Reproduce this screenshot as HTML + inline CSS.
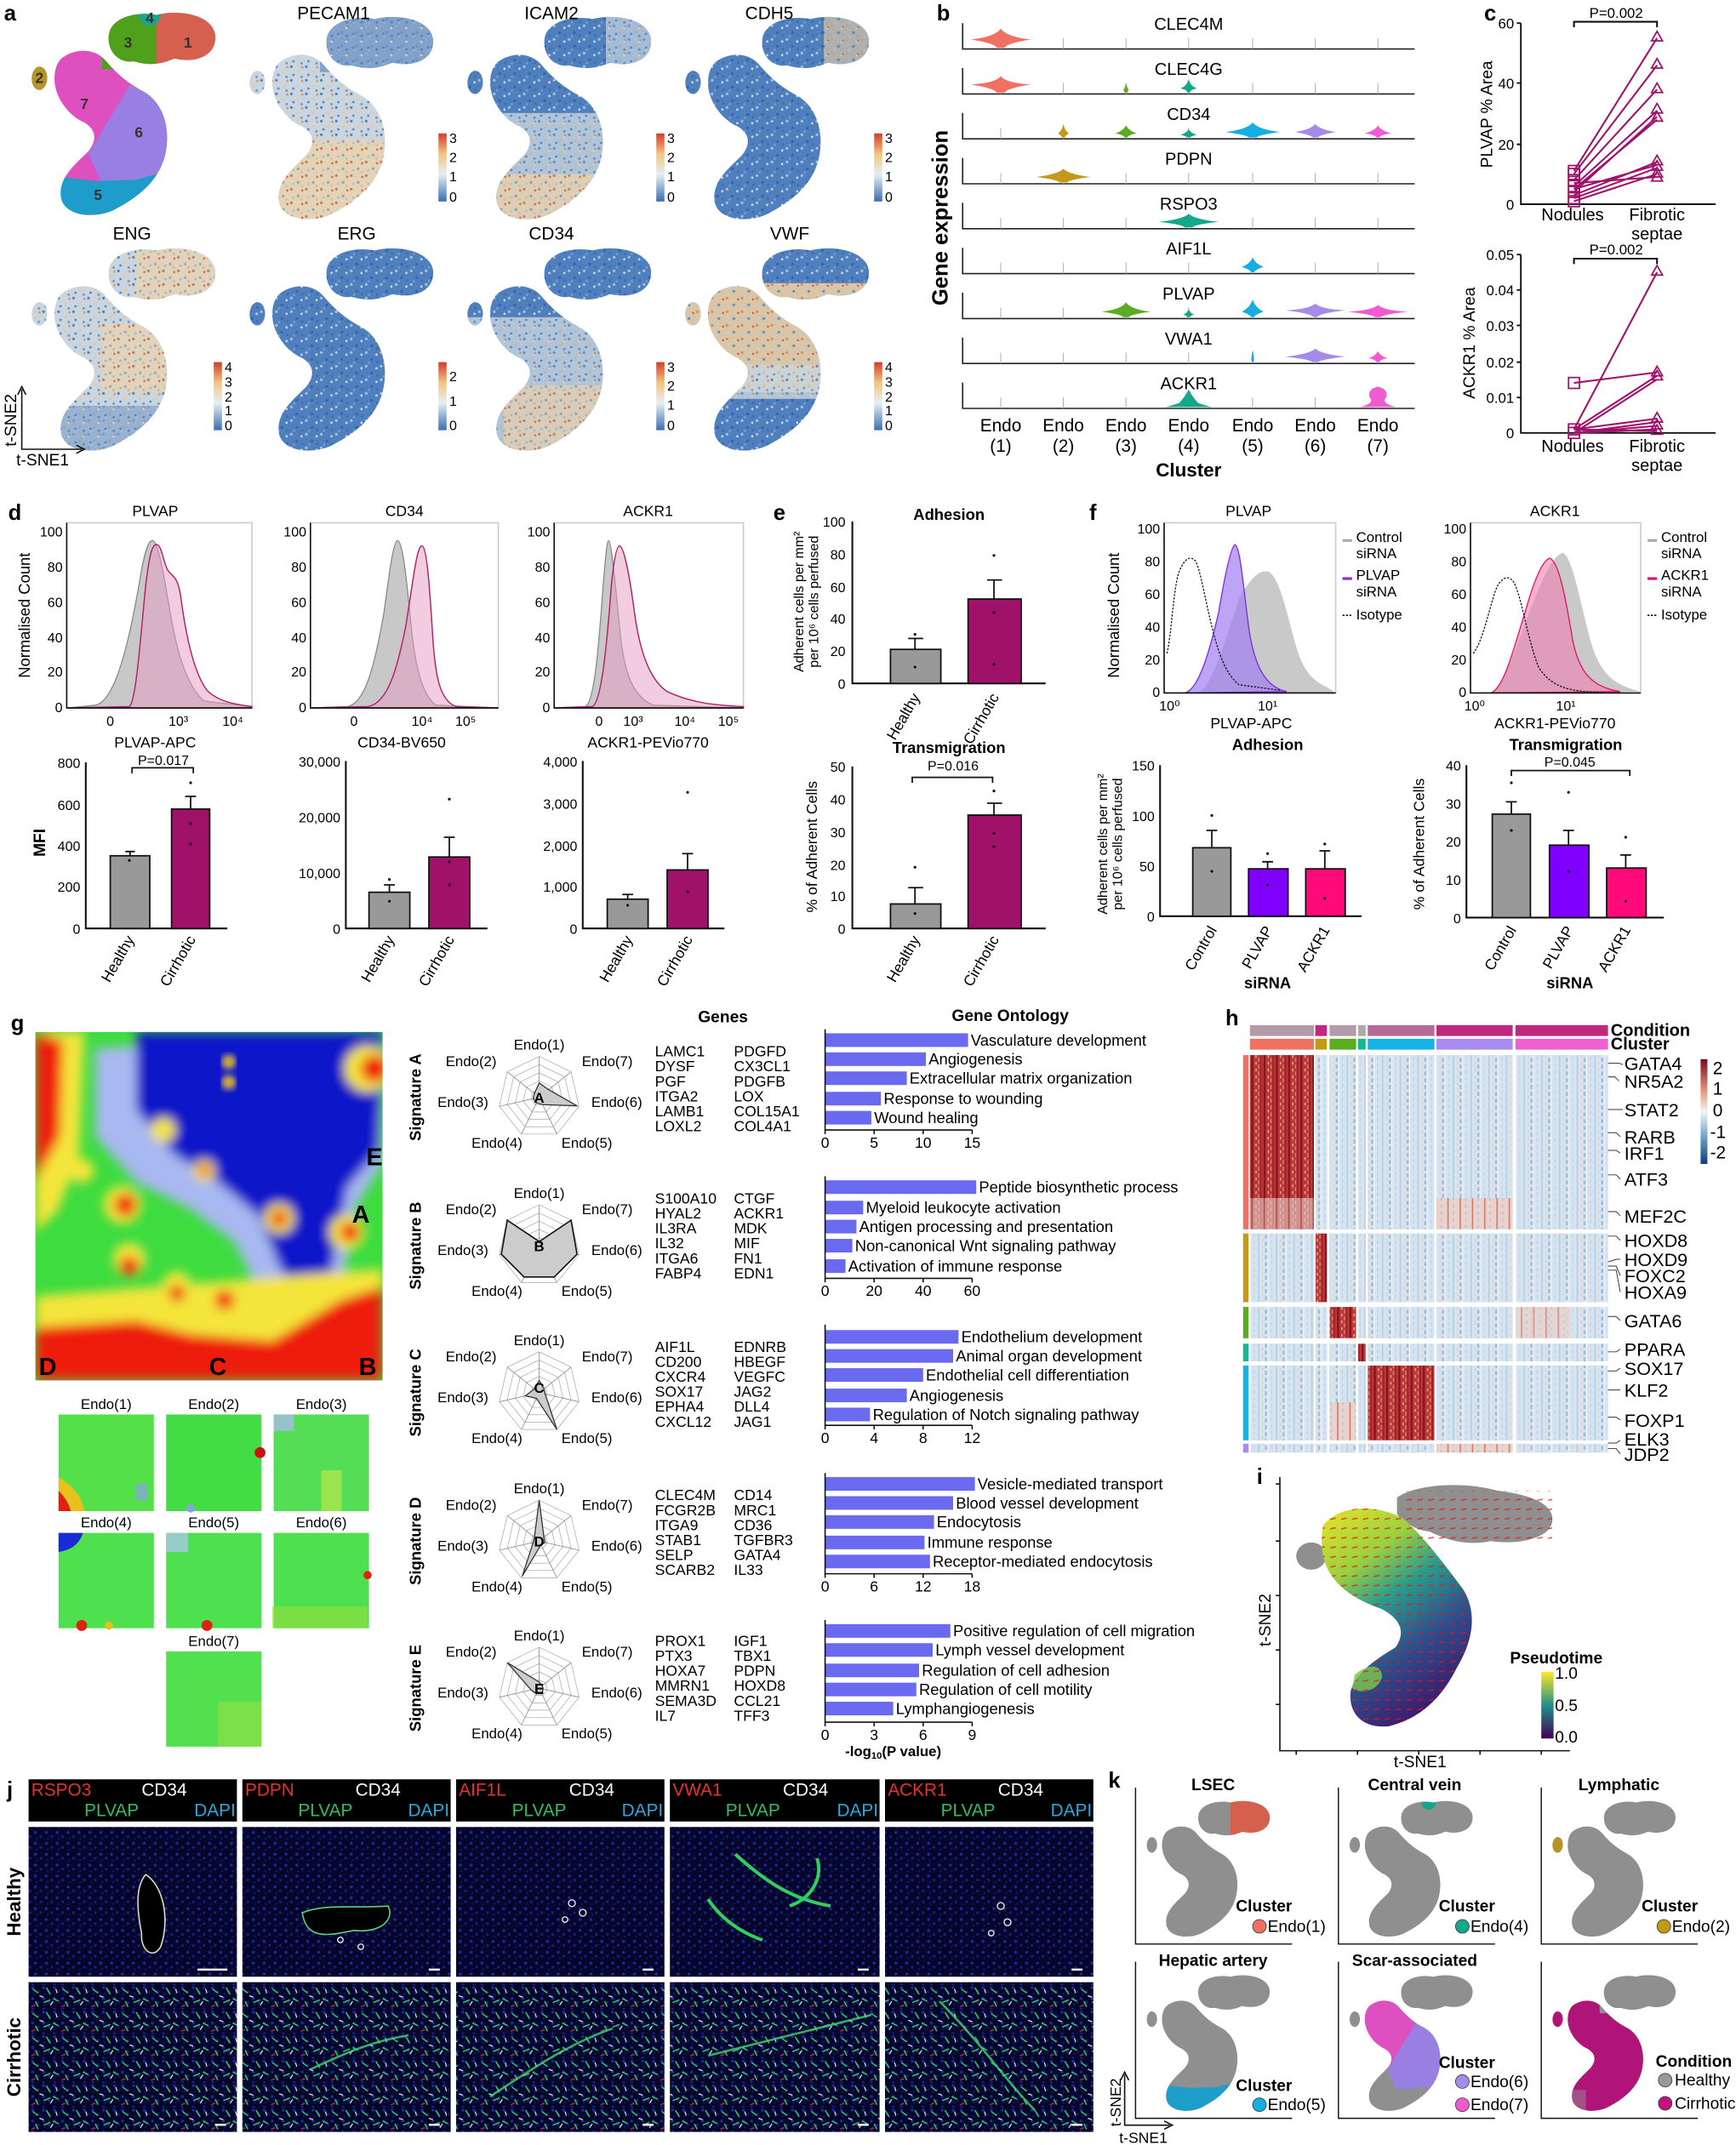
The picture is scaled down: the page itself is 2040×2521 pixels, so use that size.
<!DOCTYPE html>
<html><head><meta charset="utf-8"><style>
html,body{margin:0;padding:0;background:#fff}
svg{display:block}
text{font-family:"Liberation Sans",Arial,sans-serif}
.b{font-weight:bold}
</style></head><body>
<svg xmlns="http://www.w3.org/2000/svg" xmlns:xlink="http://www.w3.org/1999/xlink" width="2040" height="2521" viewBox="0 0 1275 1575.6" preserveAspectRatio="none">
<defs>
<path id="ts" d="M60,20 C62,8 80,3 95,6 C110,2 135,5 138,20 C140,35 125,42 108,38 C95,44 85,42 78,40 C68,42 58,33 60,20 Z M8,44 C16,43 17,58 10,61 C2,62 1,47 8,44 Z M25,38 C35,30 50,30 58,40 C65,48 72,55 85,62 C100,70 106,90 101,110 C96,128 82,140 62,150 C47,156 28,153 25,141 C22,126 35,116 45,106 C52,97 50,90 42,85 C30,80 20,66 20,53 C20,46 22,41 25,38 Z"/>
<clipPath id="tsc" clipPathUnits="userSpaceOnUse"><use xlink:href="#ts"/></clipPath>
<pattern id="pBlue" width="11" height="10" patternUnits="userSpaceOnUse"><rect width="11" height="10" fill="#4f7fbd"/><circle cx="1" cy="1" r="1" fill="#a9c3dc"/><circle cx="5" cy="6" r="1" fill="#3463a8"/><circle cx="8.5" cy="2.5" r=".8" fill="#d9e3ea"/><circle cx="3" cy="8.5" r=".8" fill="#7fa2cc"/><circle cx="9" cy="8" r=".9" fill="#3a6db3"/></pattern>
<pattern id="pMix" width="11" height="10" patternUnits="userSpaceOnUse"><rect width="11" height="10" fill="#c9d6e0"/><circle cx="1" cy="1" r="1" fill="#4f7fbd"/><circle cx="6" cy="5" r="1" fill="#f0c58e"/><circle cx="9" cy="1.5" r=".8" fill="#e38a55"/><circle cx="2.5" cy="7" r=".9" fill="#5b86c0"/><circle cx="8.5" cy="8.5" r=".9" fill="#6f95c4"/></pattern>
<pattern id="pWarm" width="11" height="10" patternUnits="userSpaceOnUse"><rect width="11" height="10" fill="#f1d2a3"/><circle cx="1" cy="1" r="1" fill="#e27f4a"/><circle cx="6" cy="6" r="1" fill="#6a93c6"/><circle cx="9" cy="2" r=".8" fill="#d94a32"/><circle cx="3" cy="8" r=".8" fill="#c9d6e0"/></pattern>
<linearGradient id="cb" x1="0" y1="1" x2="0" y2="0"><stop offset="0" stop-color="#3a6db3"/><stop offset=".4" stop-color="#e6eff3"/><stop offset=".7" stop-color="#f3c47f"/><stop offset="1" stop-color="#d43b2a"/></linearGradient>
<linearGradient id="hcb" x1="0" y1="1" x2="0" y2="0"><stop offset="0" stop-color="#0d3f7a"/><stop offset=".3" stop-color="#7fb0d6"/><stop offset=".5" stop-color="#f5f5f5"/><stop offset=".7" stop-color="#e69478"/><stop offset="1" stop-color="#7a0b1c"/></linearGradient>
<linearGradient id="pt" x1="0" y1="1" x2="0" y2="0"><stop offset="0" stop-color="#440154"/><stop offset=".5" stop-color="#21908c"/><stop offset="1" stop-color="#fde725"/></linearGradient>
<linearGradient id="ig" x1="0" y1="0" x2=".5" y2="1"><stop offset="0" stop-color="#e6e42a"/><stop offset=".3" stop-color="#9ad040"/><stop offset=".5" stop-color="#2a9c8a"/><stop offset=".75" stop-color="#2d4f8c"/><stop offset="1" stop-color="#3d1e6e"/></linearGradient>
<pattern id="hBg" width="13" height="5" patternUnits="userSpaceOnUse"><rect width="13" height="5" fill="#d6e4ef"/><rect x="1" width="1" height="5" fill="#b4cde3"/><rect x="4" width="1" height="2" fill="#eccdbf"/><rect x="6" y="2" width="1.5" height="3" fill="#9dbedb"/><rect x="8" width=".7" height="5" fill="#f3f3f3"/><rect x="10.5" y="1" width="1" height="3" fill="#c3d7e8"/></pattern>
<pattern id="hHi" width="9" height="5" patternUnits="userSpaceOnUse"><rect width="9" height="5" fill="#b83a37"/><rect x="1" width="1.5" height="5" fill="#8a111f"/><rect x="4" width="1" height="2" fill="#e7a28d"/><rect x="6" y="2" width="1" height="3" fill="#d8786a"/><rect x="7.5" width="1" height="5" fill="#9d1d28"/></pattern>
<pattern id="hMid" width="9" height="5" patternUnits="userSpaceOnUse"><rect width="9" height="5" fill="#e9d3cc"/><rect x="1" width="1" height="5" fill="#d27a6a"/><rect x="5" width="1" height="2" fill="#a9c7e0"/></pattern>
<pattern id="nav" width="8" height="8" patternUnits="userSpaceOnUse"><rect width="8" height="8" fill="#06062a"/><circle cx="2" cy="2" r="1.1" fill="#1c2aa0"/><circle cx="6" cy="5" r="1" fill="#14208a"/><circle cx="3" cy="6.5" r=".7" fill="#101a70"/></pattern>
<pattern id="cir" width="22" height="18" patternUnits="userSpaceOnUse"><rect width="22" height="18" fill="url(#nav)"/><path d="M2,3 l4,3 M12,2 l3,5 M17,10 l4,2 M4,12 l2,4 M10,13 l5,-2" stroke="#3bd66a" stroke-width=".9"/><path d="M7,8 l3,1 M15,15 l2,-3 M19,3 l1,3" stroke="#e8e8f0" stroke-width=".8"/><path d="M1,16 l3,-1" stroke="#d33" stroke-width=".7"/></pattern>
<pattern id="arr" width="8" height="7" patternUnits="userSpaceOnUse"><path d="M1,3 l4,-0.8" stroke="#e01818" stroke-width=".9"/></pattern>
<polygon id="hep" points="0,-30 23.45,-18.71 29.25,6.68 13.02,27.03 -13.02,27.03 -29.25,6.68 -23.45,-18.71" fill="none" stroke="#999" stroke-width=".6" vector-effect="non-scaling-stroke"/>
<g id="radar">
<use xlink:href="#hep"/><use xlink:href="#hep" transform="scale(.8)"/><use xlink:href="#hep" transform="scale(.6)"/><use xlink:href="#hep" transform="scale(.4)"/><use xlink:href="#hep" transform="scale(.2)"/>
<path d="M0,0L0,-30M0,0L23.45,-18.71M0,0L29.25,6.68M0,0L13.02,27.03M0,0L-13.02,27.03M0,0L-29.25,6.68M0,0L-23.45,-18.71" stroke="#999" stroke-width=".6"/>
<g font-size="10.5" text-anchor="middle"><text x="0" y="-35">Endo(1)</text><text x="-50" y="-23">Endo(2)</text><text x="50" y="-23">Endo(7)</text><text x="-56" y="7">Endo(3)</text><text x="57" y="7">Endo(6)</text><text x="-31" y="37">Endo(4)</text><text x="35" y="37">Endo(5)</text></g>
</g>
<filter id="bl" x="-10%" y="-10%" width="120%" height="120%"><feGaussianBlur stdDeviation="4"/></filter>
<filter id="bl2"><feGaussianBlur stdDeviation="2.5"/></filter>
<clipPath id="somc"><rect x="26" y="758" width="255" height="256"/></clipPath>
</defs>

<!-- ================= PANEL A ================= -->
<text x="3" y="15" class="b" font-size="16">a</text>
<g transform="translate(20,5)">
 <g clip-path="url(#tsc)">
  <rect width="150" height="160" fill="#de4fc0"/>
  <polygon points="75,58 112,60 112,125 55,130 45,108" fill="#9a7fe2"/>
  <polygon points="0,122 50,128 80,127 112,118 112,160 0,160" fill="#1e9dca"/>
  <rect x="95" y="0" width="55" height="46" fill="#d5604e"/>
  <rect x="55" y="0" width="40" height="46" fill="#4fa11c"/>
  <circle cx="90" cy="6" r="8" fill="#1aa58a"/>
  <rect x="0" y="40" width="18" height="25" fill="#b59428"/>
 </g>
 <g class="b" font-size="11" fill="#333" text-anchor="middle"><text x="118" y="30">1</text><text x="74" y="30">3</text><text x="90" y="12">4</text><text x="9" y="56">2</text><text x="42" y="75">7</text><text x="82" y="96">6</text><text x="52" y="142">5</text></g>
</g>
<!-- expression plots -->
<g transform="translate(180,8)"><use xlink:href="#ts" fill="url(#pMix)"/><g clip-path="url(#tsc)"><rect x="55" y="0" width="95" height="45" fill="url(#pBlue)" opacity=".6"/><rect x="0" y="95" width="150" height="60" fill="url(#pWarm)" opacity=".7"/></g></g>
<g transform="translate(340,8)"><use xlink:href="#ts" fill="url(#pBlue)"/><g clip-path="url(#tsc)"><rect x="0" y="75" width="150" height="80" fill="url(#pMix)" opacity=".8"/><rect x="0" y="120" width="150" height="35" fill="url(#pWarm)" opacity=".7"/><rect x="105" y="0" width="45" height="45" fill="url(#pMix)" opacity=".7"/></g></g>
<g transform="translate(500,8)"><use xlink:href="#ts" fill="url(#pBlue)"/><g clip-path="url(#tsc)"><rect x="105" y="0" width="45" height="45" fill="url(#pWarm)" opacity=".6"/></g></g>
<g transform="translate(20,178)"><use xlink:href="#ts" fill="url(#pMix)"/><g clip-path="url(#tsc)"><rect x="80" y="0" width="70" height="45" fill="url(#pWarm)" opacity=".6"/><rect x="55" y="60" width="60" height="50" fill="url(#pWarm)" opacity=".6"/><rect x="0" y="120" width="150" height="35" fill="url(#pBlue)" opacity=".4"/></g></g>
<g transform="translate(180,178)"><use xlink:href="#ts" fill="url(#pBlue)"/></g>
<g transform="translate(340,178)"><use xlink:href="#ts" fill="url(#pBlue)"/><g clip-path="url(#tsc)"><rect x="0" y="55" width="150" height="100" fill="url(#pMix)" opacity=".8"/><rect x="30" y="105" width="80" height="50" fill="url(#pWarm)" opacity=".6"/></g></g>
<g transform="translate(500,178)"><use xlink:href="#ts" fill="url(#pBlue)"/><g clip-path="url(#tsc)"><rect x="0" y="30" width="150" height="80" fill="url(#pWarm)" opacity=".85"/><rect x="0" y="90" width="150" height="25" fill="url(#pMix)" opacity=".8"/></g></g>
<g font-size="13" text-anchor="middle"><text x="245" y="14">PECAM1</text><text x="405" y="14">ICAM2</text><text x="565" y="14">CDH5</text><text x="97" y="176">ENG</text><text x="262" y="176">ERG</text><text x="405" y="176">CD34</text><text x="580" y="176">VWF</text></g>
<g font-size="10">
<rect x="322" y="98" width="6" height="50" fill="url(#cb)"/><text x="330" y="105">3</text><text x="330" y="119">2</text><text x="330" y="133">1</text><text x="330" y="148">0</text>
<rect x="482" y="98" width="6" height="50" fill="url(#cb)"/><text x="490" y="105">3</text><text x="490" y="119">2</text><text x="490" y="133">1</text><text x="490" y="148">0</text>
<rect x="642" y="98" width="6" height="50" fill="url(#cb)"/><text x="650" y="105">3</text><text x="650" y="119">2</text><text x="650" y="133">1</text><text x="650" y="148">0</text>
<rect x="157" y="266" width="6" height="50" fill="url(#cb)"/><text x="165" y="273">4</text><text x="165" y="284">3</text><text x="165" y="295">2</text><text x="165" y="305">1</text><text x="165" y="316">0</text>
<rect x="322" y="266" width="6" height="50" fill="url(#cb)"/><text x="330" y="280">2</text><text x="330" y="298">1</text><text x="330" y="316">0</text>
<rect x="482" y="266" width="6" height="50" fill="url(#cb)"/><text x="490" y="273">3</text><text x="490" y="287">2</text><text x="490" y="301">1</text><text x="490" y="316">0</text>
<rect x="642" y="266" width="6" height="50" fill="url(#cb)"/><text x="650" y="273">4</text><text x="650" y="284">3</text><text x="650" y="295">2</text><text x="650" y="305">1</text><text x="650" y="316">0</text>
</g>
<path d="M16,286 V330 H60 M13,290 L16,284 L19,290 M56,327 L62,330 L56,333" stroke="#111" stroke-width="1" fill="none"/>
<text transform="translate(12,328) rotate(-90)" font-size="12">t-SNE2</text>
<text x="12" y="342" font-size="12">t-SNE1</text>

<!-- ================= PANEL B ================= -->
<text x="688" y="15" class="b" font-size="16">b</text>
<text transform="translate(696,160) rotate(-90)" text-anchor="middle" class="b" font-size="16">Gene expression</text>
<g stroke="#222" stroke-width="1" fill="none">
<path d="M707,17 V36 H1039 M707,50 V69 H1039 M707,83 V102 H1039 M707,116 V135 H1039 M707,149 V168 H1039 M707,182 V201 H1039 M707,215 V234 H1039 M707,248 V267 H1039 M707,281 V300 H1039"/>
</g>
<g stroke="#aaa" stroke-width=".6">
<path d="M735,28V36M781,28V36M827,28V36M873,28V36M920,28V36M966,28V36M1012,28V36 M735,61V69M781,61V69M827,61V69M873,61V69M920,61V69M966,61V69M1012,61V69 M735,94V102M781,94V102M827,94V102M873,94V102M920,94V102M966,94V102M1012,94V102 M735,127V135M781,127V135M827,127V135M873,127V135M920,127V135M966,127V135M1012,127V135 M735,160V168M781,160V168M827,160V168M873,160V168M920,160V168M966,160V168M1012,160V168 M735,193V201M781,193V201M827,193V201M873,193V201M920,193V201M966,193V201M1012,193V201 M735,226V234M781,226V234M827,226V234M873,226V234M920,226V234M966,226V234M1012,226V234 M735,259V267M781,259V267M827,259V267M873,259V267M920,259V267M966,259V267M1012,259V267 M735,292V300M781,292V300M827,292V300M873,292V300M920,292V300M966,292V300M1012,292V300"/>
</g>
<g font-size="12.5" text-anchor="middle"><text x="873" y="22">CLEC4M</text><text x="873" y="55">CLEC4G</text><text x="873" y="88">CD34</text><text x="873" y="121">PDPN</text><text x="873" y="154">RSPO3</text><text x="873" y="187">AIF1L</text><text x="873" y="220">PLVAP</text><text x="873" y="253">VWA1</text><text x="873" y="286">ACKR1</text></g>
<g>
<path d="M735,21 Q739,27 757,29 Q739,32 738,35 L732,35 Q731,32 713,29 Q731,27 735,21Z" fill="#f07062"/>
<path d="M735,56 Q739,61 757,62 Q739,65 738,68 L732,68 Q731,65 713,62 Q731,61 735,56Z" fill="#f07062"/>
<path d="M827,61 Q828,65 829,66 Q828,67 828,68 L826,68 Q826,67 825,66 Q826,65 827,61Z" fill="#5aac20"/>
<path d="M873,58 Q874,63 879,65 Q874,66 874,68 L872,68 Q872,66 867,65 Q872,63 873,58Z" fill="#14a88a"/>
<path d="M781,91 Q782,96 785,98 Q782,100 782,101 L780,101 Q780,100 777,98 Q780,96 781,91Z" fill="#c29a18"/>
<path d="M827,92 Q829,96 835,98 Q829,99 828,101 L826,101 Q825,99 819,98 Q825,96 827,92Z" fill="#5aac20"/>
<path d="M873,95 Q875,98 879,99 Q875,100 874,101 L872,101 Q871,100 867,99 Q871,98 873,95Z" fill="#14a88a"/>
<path d="M920,90 Q924,95 940,97 Q924,99 923,101 L917,101 Q916,99 900,97 Q916,95 920,90Z" fill="#14aee0"/>
<path d="M966,91 Q969,95 981,97 Q969,99 968,101 L964,101 Q963,99 951,97 Q963,95 966,91Z" fill="#a78be9"/>
<path d="M1012,92 Q1014,96 1022,98 Q1014,99 1013,101 L1011,101 Q1010,99 1002,98 Q1010,96 1012,92Z" fill="#ef5bd0"/>
<path d="M781,124 Q785,128 801,130 Q785,132 784,134 L778,134 Q777,132 761,130 Q777,128 781,124Z" fill="#c29a18"/>
<path d="M873,157 Q877,161 895,163 Q877,165 876,167 L870,167 Q869,165 851,163 Q869,161 873,157Z" fill="#14a88a"/>
<path d="M920,189 Q922,194 928,196 Q922,198 921,200 L919,200 Q918,198 912,196 Q918,194 920,189Z" fill="#14aee0"/>
<path d="M827,222 Q830,227 845,229 Q830,231 829,233 L825,233 Q824,231 809,229 Q824,227 827,222Z" fill="#5aac20"/>
<path d="M873,227 Q874,230 877,231 Q874,232 874,233 L872,233 Q872,232 869,231 Q872,230 873,227Z" fill="#14a88a"/>
<path d="M920,220 Q922,226 928,229 Q922,231 921,233 L919,233 Q918,231 912,229 Q918,226 920,220Z" fill="#14aee0"/>
<path d="M966,223 Q970,227 988,228 Q970,230 967,233 L965,233 Q962,230 944,228 Q962,227 966,223Z" fill="#a78be9"/>
<path d="M1012,224 Q1016,228 1034,229 Q1016,231 1014,233 L1010,233 Q1008,231 990,229 Q1008,228 1012,224Z" fill="#ef5bd0"/>
<path d="M920,257 Q921,262 921,264 Q921,265 920.5,266 L919.5,266 Q919,265 919,264 Q919,262 920,257Z" fill="#14aee0"/>
<path d="M966,256 Q970,260 988,262 Q970,264 968,266 L964,266 Q962,264 944,262 Q962,260 966,256Z" fill="#a78be9"/>
<path d="M1012,258 Q1014,262 1019,263 Q1014,264 1013,266 L1011,266 Q1010,264 1005,263 Q1010,262 1012,258Z" fill="#ef5bd0"/>
<path d="M873,286 Q876,292 880,296 Q886,298 890,299 L856,299 Q860,298 866,296 Q870,292 873,286Z" fill="#14a88a"/>
<path d="M1012,284 Q1020,286 1018,292 Q1014,296 1025,299 L999,299 Q1010,296 1006,292 Q1004,286 1012,284Z" fill="#ef5bd0"/>
</g>
<g font-size="13" text-anchor="middle"><text x="735" y="317">Endo</text><text x="781" y="317">Endo</text><text x="827" y="317">Endo</text><text x="873" y="317">Endo</text><text x="920" y="317">Endo</text><text x="966" y="317">Endo</text><text x="1012" y="317">Endo</text>
<text x="735" y="332">(1)</text><text x="781" y="332">(2)</text><text x="827" y="332">(3)</text><text x="873" y="332">(4)</text><text x="920" y="332">(5)</text><text x="966" y="332">(6)</text><text x="1012" y="332">(7)</text></g>
<text x="873" y="350" text-anchor="middle" class="b" font-size="14">Cluster</text>

<!-- ================= PANEL C ================= -->
<text x="1090" y="15" class="b" font-size="16">c</text>
<g stroke="#111" stroke-width="1.2" fill="none"><path d="M1117,17 V150 H1260 M1114,17H1117M1114,61H1117M1114,106H1117"/><path d="M1117,187 V318 H1260 M1114,187H1117M1114,213H1117M1114,239H1117M1114,266H1117M1114,292H1117"/><path d="M1156,20V16H1217V20 M1156,194V190H1217V194" stroke-width="1.3"/></g>
<g font-size="10.5" text-anchor="end"><text x="1112" y="21">60</text><text x="1112" y="65">40</text><text x="1112" y="110">20</text><text x="1112" y="154">0</text>
<text x="1112" y="191">0.05</text><text x="1112" y="217">0.04</text><text x="1112" y="243">0.03</text><text x="1112" y="270">0.02</text><text x="1112" y="296">0.01</text><text x="1112" y="322">0</text></g>
<text x="1187" y="13" font-size="10.5" text-anchor="middle">P=0.002</text><text x="1187" y="187" font-size="10.5" text-anchor="middle">P=0.002</text>
<text transform="translate(1096,84) rotate(-90)" font-size="12" text-anchor="middle">PLVAP % Area</text>
<text transform="translate(1083,252) rotate(-90)" font-size="12" text-anchor="middle">ACKR1 % Area</text>
<g font-size="12.5" text-anchor="middle"><text x="1155" y="162">Nodules</text><text x="1217" y="162">Fibrotic</text><text x="1217" y="176">septae</text><text x="1155" y="332">Nodules</text><text x="1217" y="332">Fibrotic</text><text x="1217" y="346">septae</text></g>
<g stroke="#a0126a" stroke-width="1.3" fill="none">
<path d="M1156,125.6L1217,28M1156,127.8L1217,48M1156,132.3L1217,65.7M1156,136.7L1217,81.3M1156,138.9L1217,87.9M1156,141.1L1217,85.7M1156,143.3L1217,119M1156,138.9L1217,121.2M1156,145.6L1217,123.4M1156,147.8L1217,127.8M1156,134.5L1217,130"/>
<path d="M1156,281.3L1217,273.5M1156,315.4L1217,200M1156,315.4L1217,276M1156,318L1217,278.7M1156,315.4L1217,307.5M1156,318L1217,310M1156,318L1217,312.8M1156,318L1217,315.4M1156,315.4L1217,316.7"/>
<g stroke-width="1.1"><rect x="1152" y="121.6" width="8" height="8"/><rect x="1152" y="123.8" width="8" height="8"/><rect x="1152" y="128.3" width="8" height="8"/><rect x="1152" y="132.7" width="8" height="8"/><rect x="1152" y="137" width="8" height="8"/><rect x="1152" y="141.6" width="8" height="8"/><rect x="1152" y="143.8" width="8" height="8"/>
<rect x="1152" y="277.3" width="8" height="8"/><rect x="1152" y="311.4" width="8" height="8"/><rect x="1152" y="314" width="8" height="8"/>
<path d="M1217,23l4,7h-8z M1217,43l4,7h-8z M1217,61l4,7h-8z M1217,76l4,7h-8z M1217,82l4,7h-8z M1217,114l4,7h-8z M1217,118l4,7h-8z M1217,123l4,7h-8z M1217,126l4,7h-8z M1217,195l4,7h-8z M1217,269l4,7h-8z M1217,272l4,7h-8z M1217,303l4,7h-8z M1217,308l4,7h-8z M1217,312l4,7h-8z"/></g>
</g>

<!-- ================= PANEL D ================= -->
<text x="6" y="382" class="b" font-size="16">d</text>
<g font-size="11" text-anchor="middle"><text x="114" y="379">PLVAP</text><text x="297" y="379">CD34</text><text x="476" y="379">ACKR1</text></g>
<text transform="translate(22,452) rotate(-90)" font-size="11.5" text-anchor="middle">Normalised Count</text>
<g>
<rect x="49" y="384" width="136" height="136" fill="none" stroke="#ccc"/>
<rect x="228" y="384" width="138" height="136" fill="none" stroke="#ccc"/>
<rect x="407" y="384" width="139" height="136" fill="none" stroke="#ccc"/>
<path d="M50,520 L70,518 C85,515 95,470 102,430 C106,405 109,397 112,397 C116,397 120,420 125,450 C130,480 138,505 150,515 L185,519 L185,520 Z" fill="#aaa" fill-opacity=".65" stroke="#888" stroke-width=".8"/>
<path d="M50,520 L95,519 C100,515 103,470 107,430 C110,405 112,400 115,400 C119,400 120,415 124,420 C128,424 131,425 133,440 C137,470 143,495 152,507 C160,515 170,517 185,519 L185,520 Z" fill="#e59ac0" fill-opacity=".5" stroke="#b0206e" stroke-width=".9"/>
<path d="M228,520 L255,519 C268,517 275,490 282,450 C286,420 289,397 292,397 C296,397 299,430 302,460 C305,490 310,510 320,518 L366,520 Z" fill="#aaa" fill-opacity=".65" stroke="#888" stroke-width=".8"/>
<path d="M228,520 L270,519 C285,517 292,490 298,460 C303,430 306,400 310,401 C314,402 316,440 318,470 C320,500 324,515 335,519 L366,520 Z" fill="#e59ac0" fill-opacity=".5" stroke="#b0206e" stroke-width=".9"/>
<path d="M407,520 L430,519 C437,515 440,470 443,430 C445,405 446,397 447,397 C449,397 452,430 455,460 C458,495 465,512 480,518 L546,520 Z" fill="#aaa" fill-opacity=".65" stroke="#888" stroke-width=".8"/>
<path d="M407,520 L435,519 C442,516 446,470 449,430 C451,410 453,401 455,401 C458,401 462,420 466,450 C470,480 478,500 490,508 C505,515 520,518 546,519 L546,520 Z" fill="#e59ac0" fill-opacity=".5" stroke="#b0206e" stroke-width=".9"/>
<path d="M49,384V520H185 M228,384V520H366 M407,384V520H546" stroke="#111" fill="none"/>
</g>
<g font-size="10" text-anchor="end">
<text x="46" y="394">100</text><text x="46" y="420">80</text><text x="46" y="446">60</text><text x="46" y="472">40</text><text x="46" y="497">20</text><text x="46" y="523">0</text>
<text x="225" y="394">100</text><text x="225" y="420">80</text><text x="225" y="446">60</text><text x="225" y="472">40</text><text x="225" y="497">20</text><text x="225" y="523">0</text>
<text x="404" y="394">100</text><text x="404" y="420">80</text><text x="404" y="446">60</text><text x="404" y="472">40</text><text x="404" y="497">20</text><text x="404" y="523">0</text>
</g>
<g font-size="10" text-anchor="middle"><text x="81" y="533">0</text><text x="131" y="533">10³</text><text x="171" y="533">10⁴</text><text x="260" y="533">0</text><text x="310" y="533">10⁴</text><text x="342" y="533">10⁵</text><text x="440" y="533">0</text><text x="465" y="533">10³</text><text x="503" y="533">10⁴</text><text x="535" y="533">10⁵</text></g>
<g font-size="11" text-anchor="middle"><text x="114" y="549">PLVAP-APC</text><text x="295" y="549">CD34-BV650</text><text x="476" y="549">ACKR1-PEVio770</text></g>
<g stroke="#111" stroke-width="1.1">
<path d="M63,560V682H167 M254,559V682H358 M428,559V682H532" fill="none" stroke-width="1.3"/>
<rect x="81" y="628.6" width="29" height="53.4" fill="#999"/><rect x="126" y="594.3" width="28" height="87.7" fill="#a0126a"/>
<rect x="271" y="655.4" width="30" height="26.6" fill="#999"/><rect x="315" y="629.5" width="30" height="52.5" fill="#a0126a"/>
<rect x="446" y="660.5" width="30" height="21.5" fill="#999"/><rect x="490" y="639" width="30" height="43" fill="#a0126a"/>
<path d="M95.5,628.6V625.5M92,625.5H99 M140,594.3V585M136,585H144 M286,655.4V650M282,650H290 M330,629.5V615M326,615H334 M461,660.5V657M457,657H465 M505,639V627M501,627H509 M97,568V564H142V568" fill="none"/>
</g>
<g fill="#111"><circle cx="95" cy="632" r="1"/><circle cx="140" cy="575" r="1"/><circle cx="140" cy="605" r="1"/><circle cx="140" cy="620" r="1"/><circle cx="286" cy="646" r="1"/><circle cx="286" cy="662" r="1"/><circle cx="330" cy="587" r="1"/><circle cx="330" cy="633" r="1"/><circle cx="330" cy="650" r="1"/><circle cx="505" cy="582" r="1"/><circle cx="505" cy="655" r="1"/><circle cx="461" cy="665" r="1"/></g>
<text x="120" y="562" font-size="10" text-anchor="middle">P=0.017</text>
<text transform="translate(33,619) rotate(-90)" class="b" font-size="12" text-anchor="middle">MFI</text>
<g font-size="10" text-anchor="end"><text x="59" y="564">800</text><text x="59" y="595">600</text><text x="59" y="625">400</text><text x="59" y="655">200</text><text x="59" y="686">0</text>
<text x="250" y="563">30,000</text><text x="250" y="604">20,000</text><text x="250" y="645">10,000</text><text x="250" y="686">0</text>
<text x="424" y="563">4,000</text><text x="424" y="594">3,000</text><text x="424" y="625">2,000</text><text x="424" y="655">1,000</text><text x="424" y="686">0</text></g>
<g font-size="11" text-anchor="end"><text transform="translate(99,690) rotate(-60)">Healthy</text><text transform="translate(144,690) rotate(-60)">Cirrhotic</text><text transform="translate(290,690) rotate(-60)">Healthy</text><text transform="translate(334,690) rotate(-60)">Cirrhotic</text><text transform="translate(465,690) rotate(-60)">Healthy</text><text transform="translate(509,690) rotate(-60)">Cirrhotic</text></g>

<!-- ================= PANEL E ================= -->
<text x="568" y="382" class="b" font-size="16">e</text>
<text x="697" y="382" class="b" font-size="11.5" text-anchor="middle">Adhesion</text>
<text x="697" y="553" class="b" font-size="11.5" text-anchor="middle">Transmigration</text>
<text transform="translate(590,442) rotate(-90)" font-size="10" text-anchor="middle">Adherent cells per mm²</text>
<text transform="translate(601,442) rotate(-90)" font-size="10" text-anchor="middle">per 10⁶ cells perfused</text>
<text transform="translate(600,622) rotate(-90)" font-size="11" text-anchor="middle">% of Adherent Cells</text>
<g stroke="#111" stroke-width="1.1">
<path d="M626,383V502H768 M626,563V682H768" fill="none" stroke-width="1.3"/>
<rect x="654" y="477" width="37" height="25" fill="#999"/><rect x="711" y="440" width="39" height="62" fill="#a0126a"/>
<rect x="654" y="664" width="37" height="18" fill="#999"/><rect x="711" y="598.7" width="39" height="83.3" fill="#a0126a"/>
<path d="M672,477V469M667,469H678 M730,440V426M725,426H736 M672,664V652M667,652H678 M730,598.7V590M725,590H736 M670,575V571H729V575" fill="none"/>
</g>
<g fill="#111"><circle cx="672" cy="466" r="1"/><circle cx="672" cy="490" r="1"/><circle cx="730" cy="408" r="1"/><circle cx="730" cy="450" r="1"/><circle cx="730" cy="488" r="1"/><circle cx="672" cy="637" r="1"/><circle cx="672" cy="671" r="1"/><circle cx="730" cy="581" r="1"/><circle cx="730" cy="612" r="1"/><circle cx="730" cy="622" r="1"/></g>
<text x="700" y="566" font-size="10" text-anchor="middle">P=0.016</text>
<g font-size="10" text-anchor="end"><text x="621" y="387">100</text><text x="621" y="411">80</text><text x="621" y="435">60</text><text x="621" y="458">40</text><text x="621" y="482">20</text><text x="621" y="506">0</text>
<text x="621" y="567">50</text><text x="621" y="591">40</text><text x="621" y="615">30</text><text x="621" y="639">20</text><text x="621" y="662">10</text><text x="621" y="686">0</text></g>
<g font-size="11" text-anchor="end"><text transform="translate(676,512) rotate(-60)">Healthy</text><text transform="translate(734,512) rotate(-60)">Cirrhotic</text><text transform="translate(676,690) rotate(-60)">Healthy</text><text transform="translate(734,690) rotate(-60)">Cirrhotic</text></g>

<!-- ================= PANEL F ================= -->
<text x="800" y="382" class="b" font-size="16">f</text>
<g font-size="11" text-anchor="middle"><text x="917" y="379">PLVAP</text><text x="1142" y="379">ACKR1</text></g>
<text transform="translate(822,452) rotate(-90)" font-size="11.5" text-anchor="middle">Normalised Count</text>
<rect x="855" y="384" width="126" height="125" fill="none" stroke="#ccc"/>
<rect x="1080" y="384" width="125" height="125" fill="none" stroke="#ccc"/>
<path d="M880,509 C890,505 900,470 910,440 C918,425 925,418 932,420 C940,425 945,450 952,475 C958,495 965,500 975,505 L981,509 Z" fill="#bbb" fill-opacity=".8"/>
<path d="M870,509 C880,507 888,480 895,450 C900,420 904,402 907,400 C911,402 913,430 917,460 C921,490 930,505 945,508 Z" fill="#a27ef0" fill-opacity=".7" stroke="#7a28e0" stroke-width=".8"/>
<path d="M857,480 C860,470 862,430 866,420 C870,410 874,408 878,412 C882,420 885,440 890,460 C895,480 900,495 910,503 L940,507" fill="none" stroke="#111" stroke-width=".8" stroke-dasharray="1.5,1"/>
<path d="M1095,509 C1105,505 1115,470 1125,445 C1133,425 1140,408 1148,406 C1155,410 1160,440 1168,470 C1175,495 1185,503 1205,508 Z" fill="#bbb" fill-opacity=".8"/>
<path d="M1095,509 C1105,505 1112,475 1120,450 C1127,425 1133,412 1138,410 C1145,412 1150,440 1155,470 C1160,495 1170,505 1190,508 Z" fill="#f080b0" fill-opacity=".6" stroke="#e0106a" stroke-width=".8"/>
<path d="M1082,480 C1090,470 1095,440 1100,430 C1104,424 1108,422 1112,428 C1118,440 1122,470 1130,490 C1138,503 1150,507 1165,508 L1180,509" fill="none" stroke="#111" stroke-width=".8" stroke-dasharray="1.5,1"/>
<path d="M855,384V509H981 M1080,384V509H1205" stroke="#111" fill="none"/>
<g font-size="10" text-anchor="end"><text x="852" y="392">100</text><text x="852" y="416">80</text><text x="852" y="440">60</text><text x="852" y="464">40</text><text x="852" y="488">20</text><text x="852" y="512">0</text>
<text x="1077" y="392">100</text><text x="1077" y="416">80</text><text x="1077" y="440">60</text><text x="1077" y="464">40</text><text x="1077" y="488">20</text><text x="1077" y="512">0</text></g>
<g font-size="10" text-anchor="middle"><text x="859" y="522">10⁰</text><text x="931" y="522">10¹</text><text x="1083" y="522">10⁰</text><text x="1150" y="522">10¹</text></g>
<g font-size="11" text-anchor="middle"><text x="919" y="535">PLVAP-APC</text><text x="1142" y="535">ACKR1-PEVio770</text></g>
<g font-size="10.5">
<path d="M986,397h7" stroke="#aaa" stroke-width="2"/><text x="996" y="398">Control</text><text x="996" y="410">siRNA</text>
<path d="M986,425h7" stroke="#8a2be2" stroke-width="2"/><text x="996" y="426">PLVAP</text><text x="996" y="438">siRNA</text>
<path d="M986,452h7" stroke="#111" stroke-dasharray="1.5,1"/><text x="996" y="455">Isotype</text>
<path d="M1210,397h7" stroke="#aaa" stroke-width="2"/><text x="1220" y="398">Control</text><text x="1220" y="410">siRNA</text>
<path d="M1210,425h7" stroke="#e0106a" stroke-width="2"/><text x="1220" y="426">ACKR1</text><text x="1220" y="438">siRNA</text>
<path d="M1210,452h7" stroke="#111" stroke-dasharray="1.5,1"/><text x="1220" y="455">Isotype</text>
</g>
<text x="931" y="551" class="b" font-size="11.5" text-anchor="middle">Adhesion</text>
<text x="1150" y="551" class="b" font-size="11.5" text-anchor="middle">Transmigration</text>
<text x="1153" y="563" font-size="10" text-anchor="middle">P=0.045</text>
<text transform="translate(813,620) rotate(-90)" font-size="10" text-anchor="middle">Adherent cells per mm²</text>
<text transform="translate(824,620) rotate(-90)" font-size="10" text-anchor="middle">per 10⁶ cells perfused</text>
<text transform="translate(1046,620) rotate(-90)" font-size="11" text-anchor="middle">% of Adherent Cells</text>
<g stroke="#111" stroke-width="1.1">
<path d="M852,562V673H1000 M1077,562V674H1222" fill="none" stroke-width="1.3"/>
<rect x="876" y="622.7" width="28" height="50.3" fill="#999"/><rect x="917" y="638.2" width="29" height="34.8" fill="#8000ff"/><rect x="959" y="638.2" width="29" height="34.8" fill="#ff0a78"/>
<rect x="1096" y="598" width="28" height="76" fill="#999"/><rect x="1138" y="620.8" width="29" height="53.2" fill="#8000ff"/><rect x="1180" y="637.6" width="29" height="36.4" fill="#ff0a78"/>
<path d="M890,622.7V610M886,610H894 M931,638.2V633M927,633H935 M973,638.2V625M969,625H977 M1110,598V589M1106,589H1114 M1152,620.8V610M1148,610H1156 M1194,637.6V628M1190,628H1198 M1110,570V566H1197V570" fill="none"/>
</g>
<g fill="#111"><circle cx="890" cy="599" r="1"/><circle cx="890" cy="640" r="1"/><circle cx="931" cy="627" r="1"/><circle cx="931" cy="650" r="1"/><circle cx="973" cy="620" r="1"/><circle cx="973" cy="660" r="1"/><circle cx="1110" cy="575" r="1"/><circle cx="1110" cy="610" r="1"/><circle cx="1152" cy="582" r="1"/><circle cx="1152" cy="640" r="1"/><circle cx="1194" cy="615" r="1"/><circle cx="1194" cy="662" r="1"/></g>
<g font-size="10" text-anchor="end"><text x="848" y="566">150</text><text x="848" y="603">100</text><text x="848" y="640">50</text><text x="848" y="677">0</text>
<text x="1073" y="566">40</text><text x="1073" y="594">30</text><text x="1073" y="622">20</text><text x="1073" y="650">10</text><text x="1073" y="678">0</text></g>
<g font-size="11" text-anchor="end"><text transform="translate(894,683) rotate(-60)">Control</text><text transform="translate(935,683) rotate(-60)">PLVAP</text><text transform="translate(977,683) rotate(-60)">ACKR1</text><text transform="translate(1114,683) rotate(-60)">Control</text><text transform="translate(1156,683) rotate(-60)">PLVAP</text><text transform="translate(1198,683) rotate(-60)">ACKR1</text></g>
<g class="b" font-size="11.5" text-anchor="middle"><text x="931" y="726">siRNA</text><text x="1153" y="726">siRNA</text></g>

<!-- ================= PANEL G ================= -->
<text x="8" y="757" class="b" font-size="16">g</text>
<g clip-path="url(#somc)">
<rect x="26" y="758" width="255" height="256" fill="#3ddc3f"/>
<g filter="url(#bl)">
<path d="M70,770 L281,758 L281,855 L262,885 L252,940 L228,972 L195,958 L172,912 L140,888 L100,868 L70,835 Z" fill="#a8b8f0"/>
<path d="M100,758 L281,758 L278,845 L255,872 L243,935 L222,955 L205,930 L190,893 L160,868 L128,848 L100,815 Z" fill="#0812c8"/>
<path d="M26,758 L62,758 L58,850 L42,890 L26,905 Z" fill="#f4e53a"/>
<path d="M26,952 L281,932 L281,1014 L26,1014 Z" fill="#f4e53a"/>
<path d="M26,758 L46,765 L44,835 L26,868 Z" fill="#ee1a10"/>
<path d="M26,975 L100,970 L140,980 L200,985 L250,955 L281,945 L281,1014 L26,1014 Z" fill="#ee1a10"/>
<circle cx="270" cy="785" r="17" fill="#f4e53a"/><circle cx="275" cy="785" r="10" fill="#ee1a10"/>
<circle cx="90" cy="885" r="14" fill="#f4e53a"/><circle cx="92" cy="885" r="8" fill="#ee1a10"/>
<circle cx="205" cy="895" r="11" fill="#f4e53a"/><circle cx="205" cy="895" r="6" fill="#ee1a10"/>
<circle cx="255" cy="905" r="13" fill="#f4e53a"/><circle cx="257" cy="905" r="7" fill="#ee1a10"/>
<circle cx="95" cy="925" r="12" fill="#f4e53a"/><circle cx="95" cy="930" r="7" fill="#ee1a10"/>
<circle cx="130" cy="945" r="11" fill="#f4e53a"/><circle cx="130" cy="950" r="6" fill="#ee1a10"/>
<circle cx="160" cy="955" r="13" fill="#f4e53a"/><circle cx="165" cy="955" r="7" fill="#ee1a10"/>
<circle cx="60" cy="860" r="9" fill="#f4e53a"/><circle cx="120" cy="830" r="9" fill="#f4e53a"/>
<circle cx="150" cy="860" r="8" fill="#f4e53a"/><circle cx="150" cy="860" r="4" fill="#ee1a10"/>
</g>
<g filter="url(#bl2)"><circle cx="168" cy="780" r="5" fill="#f4e53a"/><circle cx="168" cy="795" r="5" fill="#f4e53a"/><circle cx="168" cy="780" r="2.5" fill="#e01010"/><circle cx="168" cy="795" r="2.5" fill="#e01010"/></g>
</g>
<g class="b" font-size="18" text-anchor="middle"><text x="275" y="856">E</text><text x="265" y="898">A</text><text x="35" y="1010">D</text><text x="160" y="1010">C</text><text x="270" y="1010">B</text></g>
<g font-size="10.5" text-anchor="middle"><text x="78" y="1035">Endo(1)</text><text x="157" y="1035">Endo(2)</text><text x="236" y="1035">Endo(3)</text><text x="78" y="1122">Endo(4)</text><text x="157" y="1122">Endo(5)</text><text x="236" y="1122">Endo(6)</text><text x="157" y="1209">Endo(7)</text></g>
<g>
<rect x="43" y="1039" width="70" height="71" fill="#55e049"/><path d="M43,1085 Q60,1095 62,1110 L43,1110Z" fill="#e8c020"/><path d="M43,1095 Q50,1102 52,1110 L43,1110Z" fill="#e02010"/><rect x="100" y="1090" width="8" height="12" fill="#8aa0ea" opacity=".7"/>
<rect x="122" y="1039" width="70" height="71" fill="#44dc44"/><circle cx="191" cy="1067" r="4" fill="#d01010"/><circle cx="140" cy="1108" r="3" fill="#8aa0ea"/>
<rect x="201" y="1039" width="70" height="71" fill="#55dd55"/><rect x="201" y="1039" width="15" height="12" fill="#a8bce8" opacity=".8"/><rect x="236" y="1080" width="15" height="30" fill="#b8e84a" opacity=".7"/>
<rect x="43" y="1126" width="70" height="70" fill="#4ee04e"/><path d="M43,1126 h18 q-4,12 -18,14Z" fill="#1a2ad8"/><circle cx="60" cy="1194" r="4" fill="#e02010"/><circle cx="80" cy="1194" r="3" fill="#e8c020"/>
<rect x="122" y="1126" width="70" height="70" fill="#4ee04e"/><rect x="122" y="1126" width="16" height="14" fill="#a8c8e8" opacity=".8"/><circle cx="152" cy="1194" r="4" fill="#e02010"/>
<rect x="201" y="1126" width="70" height="70" fill="#4ee04e"/><circle cx="270" cy="1157" r="3" fill="#e02010"/><rect x="200" y="1180" width="70" height="16" fill="#9adc40" opacity=".6"/>
<rect x="122" y="1213" width="70" height="70" fill="#52e04e"/><rect x="160" y="1250" width="32" height="33" fill="#a0e040" opacity=".5"/>
</g>
<g class="b" font-size="12" text-anchor="middle"><text x="531" y="751">Genes</text><text x="742" y="750">Gene Ontology</text></g>
<g font-size="10.5">
<g transform="translate(396,806)"><use xlink:href="#radar"/><polygon points="0,-10.5 7,-5.6 27.8,6.3 2.6,5.4 -2,4.1 -4.4,1 -3.5,-2.8" fill="#ccc" stroke="#333" stroke-width=".8"/><text y="4" text-anchor="middle" class="b">A</text></g>
<g transform="translate(396,915)"><use xlink:href="#radar"/><polygon points="0,-3 23.45,-18.71 27.8,6.3 11.1,23 -11.1,23 -27.8,6.3 -23.45,-18.71" fill="#ccc" stroke="#111" stroke-width="1"/><text y="4" text-anchor="middle" class="b">B</text></g>
<g transform="translate(396,1023)"><use xlink:href="#radar"/><polygon points="0,-9 3.5,-2.8 4.4,1 13.02,27.03 -2,4.1 -10.2,2.3 -3.5,-2.8" fill="#ccc" stroke="#333" stroke-width=".8"/><text y="0" text-anchor="middle" class="b">C</text></g>
<g transform="translate(396,1132)"><use xlink:href="#radar"/><polygon points="0,-30 3.5,-2.8 4.4,1 1.3,2.7 -12.4,25.7 -4.4,1 -3.5,-2.8" fill="#ccc" stroke="#333" stroke-width=".8"/><text y="4" text-anchor="middle" class="b">D</text></g>
<g transform="translate(396,1240)"><use xlink:href="#radar"/><polygon points="0,-4.5 2.3,-1.9 2.9,0.7 2,4.1 -2,4.1 -5.9,1.3 -23.45,-18.71" fill="#ccc" stroke="#333" stroke-width=".8"/><text y="4" text-anchor="middle" class="b">E</text></g>
</g>
<g class="b" font-size="11.5" text-anchor="middle">
<text transform="translate(309,806) rotate(-90)">Signature A</text><text transform="translate(309,915) rotate(-90)">Signature B</text><text transform="translate(309,1023) rotate(-90)">Signature C</text><text transform="translate(309,1132) rotate(-90)">Signature D</text><text transform="translate(309,1240) rotate(-90)">Signature E</text></g>
<g font-size="11">
<text x="481" y="776">LAMC1</text><text x="481" y="787">DYSF</text><text x="481" y="798">PGF</text><text x="481" y="809">ITGA2</text><text x="481" y="820">LAMB1</text><text x="481" y="831">LOXL2</text>
<text x="539" y="776">PDGFD</text><text x="539" y="787">CX3CL1</text><text x="539" y="798">PDGFB</text><text x="539" y="809">LOX</text><text x="539" y="820">COL15A1</text><text x="539" y="831">COL4A1</text>
<text x="481" y="884">S100A10</text><text x="481" y="895">HYAL2</text><text x="481" y="906">IL3RA</text><text x="481" y="917">IL32</text><text x="481" y="928">ITGA6</text><text x="481" y="939">FABP4</text>
<text x="539" y="884">CTGF</text><text x="539" y="895">ACKR1</text><text x="539" y="906">MDK</text><text x="539" y="917">MIF</text><text x="539" y="928">FN1</text><text x="539" y="939">EDN1</text>
<text x="481" y="993">AIF1L</text><text x="481" y="1004">CD200</text><text x="481" y="1015">CXCR4</text><text x="481" y="1026">SOX17</text><text x="481" y="1037">EPHA4</text><text x="481" y="1048">CXCL12</text>
<text x="539" y="993">EDNRB</text><text x="539" y="1004">HBEGF</text><text x="539" y="1015">VEGFC</text><text x="539" y="1026">JAG2</text><text x="539" y="1037">DLL4</text><text x="539" y="1048">JAG1</text>
<text x="481" y="1102">CLEC4M</text><text x="481" y="1113">FCGR2B</text><text x="481" y="1124">ITGA9</text><text x="481" y="1135">STAB1</text><text x="481" y="1146">SELP</text><text x="481" y="1157">SCARB2</text>
<text x="539" y="1102">CD14</text><text x="539" y="1113">MRC1</text><text x="539" y="1124">CD36</text><text x="539" y="1135">TGFBR3</text><text x="539" y="1146">GATA4</text><text x="539" y="1157">IL33</text>
<text x="481" y="1209">PROX1</text><text x="481" y="1220">PTX3</text><text x="481" y="1231">HOXA7</text><text x="481" y="1242">MMRN1</text><text x="481" y="1253">SEMA3D</text><text x="481" y="1264">IL7</text>
<text x="539" y="1209">IGF1</text><text x="539" y="1220">TBX1</text><text x="539" y="1231">PDPN</text><text x="539" y="1242">HOXD8</text><text x="539" y="1253">CCL21</text><text x="539" y="1264">TFF3</text>
</g>
<g fill="#6a6af0">
<rect x="606" y="759" width="105" height="10"/><rect x="606" y="773" width="74" height="10"/><rect x="606" y="787" width="60" height="10"/><rect x="606" y="802" width="41" height="10"/><rect x="606" y="816" width="34" height="10"/>
<rect x="606" y="867" width="111" height="10"/><rect x="606" y="882" width="28" height="10"/><rect x="606" y="896" width="23" height="10"/><rect x="606" y="910" width="20" height="10"/><rect x="606" y="925" width="15" height="10"/>
<rect x="606" y="977" width="98" height="10"/><rect x="606" y="991" width="94" height="10"/><rect x="606" y="1005" width="72" height="10"/><rect x="606" y="1020" width="60" height="10"/><rect x="606" y="1034" width="33" height="10"/>
<rect x="606" y="1085" width="110" height="10"/><rect x="606" y="1099" width="94" height="10"/><rect x="606" y="1113" width="80" height="10"/><rect x="606" y="1128" width="73" height="10"/><rect x="606" y="1142" width="77" height="10"/>
<rect x="606" y="1193" width="92" height="10"/><rect x="606" y="1207" width="79" height="10"/><rect x="606" y="1222" width="69" height="10"/><rect x="606" y="1236" width="67" height="10"/><rect x="606" y="1250" width="50" height="10"/>
</g>
<g font-size="11.5">
<text x="713" y="768">Vasculature development</text><text x="682" y="782">Angiogenesis</text><text x="668" y="796">Extracellular matrix organization</text><text x="649" y="811">Response to wounding</text><text x="642" y="825">Wound healing</text>
<text x="719" y="876">Peptide biosynthetic process</text><text x="636" y="891">Myeloid leukocyte activation</text><text x="631" y="905">Antigen processing and presentation</text><text x="628" y="919">Non-canonical Wnt signaling pathway</text><text x="623" y="934">Activation of immune response</text>
<text x="706" y="986">Endothelium development</text><text x="702" y="1000">Animal organ development</text><text x="680" y="1014">Endothelial cell differentiation</text><text x="668" y="1029">Angiogenesis</text><text x="641" y="1043">Regulation of Notch signaling pathway</text>
<text x="718" y="1094">Vesicle-mediated transport</text><text x="702" y="1108">Blood vessel development</text><text x="688" y="1122">Endocytosis</text><text x="681" y="1137">Immune response</text><text x="685" y="1151">Receptor-mediated endocytosis</text>
<text x="700" y="1202">Positive regulation of cell migration</text><text x="687" y="1216">Lymph vessel development</text><text x="677" y="1231">Regulation of cell adhesion</text><text x="675" y="1245">Regulation of cell motility</text><text x="658" y="1259">Lymphangiogenesis</text>
</g>
<g stroke="#111" stroke-width="1" fill="none">
<path d="M606,756V830H714 M606,864V939H714 M606,973V1047H714 M606,1082V1156H714 M606,1190V1265H714"/>
<path d="M606,830v3M642,830v3M678,830v3M714,830v3 M606,939v3M642,939v3M678,939v3M714,939v3 M606,1047v3M642,1047v3M678,1047v3M714,1047v3 M606,1156v3M642,1156v3M678,1156v3M714,1156v3 M606,1265v3M642,1265v3M678,1265v3M714,1265v3"/>
</g>
<g font-size="11" text-anchor="middle">
<text x="606" y="843">0</text><text x="642" y="843">5</text><text x="678" y="843">10</text><text x="714" y="843">15</text>
<text x="606" y="952">0</text><text x="642" y="952">20</text><text x="678" y="952">40</text><text x="714" y="952">60</text>
<text x="606" y="1060">0</text><text x="642" y="1060">4</text><text x="678" y="1060">8</text><text x="714" y="1060">12</text>
<text x="606" y="1169">0</text><text x="642" y="1169">6</text><text x="678" y="1169">12</text><text x="714" y="1169">18</text>
<text x="606" y="1278">0</text><text x="642" y="1278">3</text><text x="678" y="1278">6</text><text x="714" y="1278">9</text>
</g>
<text x="656" y="1290" class="b" font-size="10.5" text-anchor="middle">-log<tspan font-size="7" dy="2">10</tspan><tspan dy="-2">(P value)</tspan></text>

<!-- ================= PANEL H ================= -->
<text x="900" y="753" class="b" font-size="16">h</text>
<g>
<rect x="918" y="753" width="47" height="8" fill="#b29aaa"/><rect x="966" y="753" width="8.5" height="8" fill="#c0287e"/><rect x="976.5" y="753" width="19.5" height="8" fill="#b29aaa"/><rect x="997.5" y="753" width="5.5" height="8" fill="#aaa"/><rect x="1004.5" y="753" width="49" height="8" fill="#b66a98"/><rect x="1055" y="753" width="56" height="8" fill="#c0287e"/><rect x="1113" y="753" width="68" height="8" fill="#c0287e"/>
<rect x="918" y="763" width="47" height="8" fill="#f07062"/><rect x="966" y="763" width="8.5" height="8" fill="#c29a18"/><rect x="976.5" y="763" width="19.5" height="8" fill="#5aac20"/><rect x="997.5" y="763" width="5.5" height="8" fill="#14b890"/><rect x="1004.5" y="763" width="49" height="8" fill="#14b4e8"/><rect x="1055" y="763" width="56" height="8" fill="#a78bf0"/><rect x="1113" y="763" width="68" height="8" fill="#f060d0"/>
<rect x="913" y="775" width="4" height="128" fill="#f07062"/><rect x="913" y="906" width="4" height="50.5" fill="#c29a18"/><rect x="913" y="960" width="4" height="23" fill="#5aac20"/><rect x="913" y="987" width="4" height="13" fill="#14b890"/><rect x="913" y="1003" width="4" height="55" fill="#14b4e8"/><rect x="913" y="1060.5" width="4" height="6.5" fill="#a78bf0"/>
<rect x="918" y="775" width="263" height="292" fill="url(#hBg)"/>
<rect x="918" y="775" width="47" height="128" fill="url(#hHi)"/>
<rect x="1055" y="880" width="56" height="23" fill="url(#hMid)"/>
<rect x="918" y="880" width="47" height="23" fill="url(#hMid)" opacity=".6"/>
<rect x="966" y="906" width="8.5" height="50.5" fill="url(#hHi)"/>
<rect x="976.5" y="960" width="19.5" height="23" fill="url(#hHi)"/>
<rect x="1113" y="960" width="40" height="23" fill="url(#hMid)" opacity=".8"/>
<rect x="997.5" y="987" width="5.5" height="13" fill="url(#hHi)"/>
<rect x="1004.5" y="1003" width="49" height="55" fill="url(#hHi)"/>
<rect x="976.5" y="1030" width="19.5" height="28" fill="url(#hMid)"/>
<rect x="1055" y="1060.5" width="56" height="6.5" fill="url(#hMid)"/>
<g fill="#fff"><rect x="965" y="775" width="1.2" height="292"/><rect x="974.7" y="775" width="1.8" height="292"/><rect x="996" y="775" width="1.5" height="292"/><rect x="1003" y="775" width="1.5" height="292"/><rect x="1053.5" y="775" width="1.5" height="292"/><rect x="1111" y="775" width="2" height="292"/>
<rect x="918" y="903" width="263" height="3"/><rect x="918" y="956.5" width="263" height="3.5"/><rect x="918" y="983" width="263" height="4"/><rect x="918" y="1000" width="263" height="3"/><rect x="918" y="1058" width="263" height="2.5"/></g>
</g>
<g class="b" font-size="12.5"><text x="1183" y="761">Condition</text><text x="1183" y="771">Cluster</text></g>
<g fill="none" stroke="#333" stroke-width=".6"><path d="M1181,781 h8 l3,1 M1181,791 l5,0 l3,3 M1181,815 h8 l3,0 M1181,832 l6,0 l3,3 M1181,845 l6,0 l3,2 M1181,863 l6,0 l3,3 M1181,890 l6,0 l3,3 M1181,908 l6,0 l3,3 M1181,927 l6,-2 l3,0 M1181,930 l6,0 l3,7 M1181,933 l6,0 l3,16 M1181,967 l6,0 l3,3 M1181,993 l6,0 l3,-2 M1181,1007 l6,0 l3,-2 M1181,1021 l6,0 l3,0 M1181,1041 l6,0 l3,2 M1181,1060 l6,0 l3,-2 M1181,1064 l6,0 l3,4"/></g>
<g font-size="13.5"><text x="1193" y="786">GATA4</text><text x="1193" y="799">NR5A2</text><text x="1193" y="820">STAT2</text><text x="1193" y="840">RARB</text><text x="1193" y="852">IRF1</text><text x="1193" y="871">ATF3</text><text x="1193" y="898">MEF2C</text><text x="1193" y="916">HOXD8</text><text x="1193" y="930">HOXD9</text><text x="1193" y="942">FOXC2</text><text x="1193" y="954">HOXA9</text><text x="1193" y="975">GATA6</text><text x="1193" y="996">PPARA</text><text x="1193" y="1010">SOX17</text><text x="1193" y="1026">KLF2</text><text x="1193" y="1048">FOXP1</text><text x="1193" y="1062">ELK3</text><text x="1193" y="1073">JDP2</text></g>
<rect x="1249" y="778" width="5" height="77" fill="url(#hcb)"/>
<g font-size="13"><text x="1258" y="789">2</text><text x="1258" y="804">1</text><text x="1258" y="820">0</text><text x="1256" y="836">-1</text><text x="1256" y="851">-2</text></g>

<!-- ================= PANEL I ================= -->
<text x="923" y="1090" class="b" font-size="16">i</text>
<path d="M940,1085V1286H1153" stroke="#111" fill="none"/>
<path d="M937,1090h3M937,1132h3M937,1172h3M937,1212h3M937,1252h3M952,1286v3M997,1286v3M1042,1286v3M1087,1286v3M1132,1286v3" stroke="#111"/>
<text transform="translate(933,1190) rotate(-90)" font-size="12" text-anchor="middle">t-SNE2</text>
<text x="1043" y="1298" font-size="12" text-anchor="middle">t-SNE1</text>
<path d="M1026,1100 C1040,1090 1075,1088 1100,1095 C1125,1098 1142,1105 1140,1118 C1138,1130 1115,1135 1095,1132 C1075,1136 1060,1130 1050,1125 C1040,1124 1030,1118 1026,1112 Z" fill="#8f8f8f"/>
<ellipse cx="963" cy="1143" rx="11" ry="10" fill="#8f8f8f"/>
<path d="M972,1120 C985,1105 1010,1105 1030,1115 C1045,1128 1060,1148 1075,1168 C1085,1185 1082,1205 1070,1225 C1060,1245 1045,1262 1020,1268 C1000,1270 990,1258 992,1242 C996,1228 1012,1218 1025,1210 C1032,1200 1030,1190 1015,1182 C995,1175 980,1165 974,1150 C970,1140 970,1128 972,1120 Z" fill="url(#ig)"/>
<path d="M995,1230 C1005,1222 1015,1222 1015,1232 C1012,1242 1000,1245 993,1240 Z" fill="#7cc84a" opacity=".8"/>
<path d="M972,1120 C985,1105 1010,1105 1030,1115 C1045,1128 1060,1148 1075,1168 C1085,1185 1082,1205 1070,1225 C1060,1245 1045,1262 1020,1268 C1000,1270 990,1258 992,1242 C996,1228 1012,1218 1025,1210 C1032,1200 1030,1190 1015,1182 C995,1175 980,1165 974,1150 C970,1140 970,1128 972,1120 Z M1030,1095 h110 v40 h-110z" fill="url(#arr)" opacity=".8"/>
<text x="1143" y="1222" class="b" font-size="12" text-anchor="middle">Pseudotime</text>
<rect x="1132" y="1228" width="9" height="49" fill="url(#pt)"/>
<g font-size="12"><text x="1142" y="1233">1.0</text><text x="1142" y="1257">0.5</text><text x="1142" y="1280">0.0</text></g>

<!-- ================= PANEL J ================= -->
<text x="5" y="1320" class="b" font-size="16">j</text>
<g>
<rect x="21" y="1307" width="153" height="31" fill="#000"/><rect x="178" y="1307" width="153" height="31" fill="#000"/><rect x="335" y="1307" width="153" height="31" fill="#000"/><rect x="492" y="1307" width="154" height="31" fill="#000"/><rect x="650" y="1307" width="153" height="31" fill="#000"/>
<rect x="21" y="1342" width="153" height="110" fill="url(#nav)"/><rect x="178" y="1342" width="153" height="110" fill="url(#nav)"/><rect x="335" y="1342" width="153" height="110" fill="url(#nav)"/><rect x="492" y="1342" width="154" height="110" fill="url(#nav)"/><rect x="650" y="1342" width="153" height="110" fill="url(#nav)"/>
<rect x="21" y="1456" width="153" height="110" fill="url(#cir)"/><rect x="178" y="1456" width="153" height="110" fill="url(#cir)"/><rect x="335" y="1456" width="153" height="110" fill="url(#cir)"/><rect x="492" y="1456" width="154" height="110" fill="url(#cir)"/><rect x="650" y="1456" width="153" height="110" fill="url(#cir)"/>
<path d="M107,1377 C120,1385 125,1410 118,1430 C112,1440 103,1432 104,1420 C100,1400 100,1385 107,1377Z" fill="#000" stroke="#e0d8c0" stroke-width="1"/>
<path d="M222,1405 C240,1398 260,1402 285,1400 C290,1410 280,1420 260,1418 C240,1422 225,1425 222,1405Z" fill="#000" stroke="#5fcf80" stroke-width="1"/>
<path d="M540,1362 C560,1380 580,1395 610,1400 M520,1395 C530,1410 545,1420 560,1425 M600,1365 C605,1380 595,1395 580,1400" stroke="#30d060" stroke-width="2.5" fill="none"/>
<g fill="none" stroke="#e8e0f0" stroke-width=".9"><circle cx="420" cy="1398" r="2.5"/><circle cx="428" cy="1405" r="2.5"/><circle cx="415" cy="1410" r="2"/><circle cx="735" cy="1400" r="2.5"/><circle cx="740" cy="1412" r="2.5"/><circle cx="728" cy="1420" r="2"/><circle cx="250" cy="1425" r="2"/><circle cx="265" cy="1430" r="2"/></g>
<path d="M228,1520 C250,1510 270,1500 300,1495 M360,1540 C390,1520 420,1500 450,1490 M520,1510 C560,1500 600,1490 640,1480 M690,1470 C720,1500 740,1530 760,1550" stroke="#40d870" stroke-width="1.6" fill="none" opacity=".8"/>
<g fill="#fff"><rect x="145" y="1446" width="22" height="1.5"/><rect x="315" y="1446" width="8" height="1.5"/><rect x="472" y="1446" width="8" height="1.5"/><rect x="630" y="1446" width="8" height="1.5"/><rect x="787" y="1446" width="8" height="1.5"/><rect x="158" y="1560" width="8" height="1.5"/><rect x="315" y="1560" width="8" height="1.5"/><rect x="472" y="1560" width="8" height="1.5"/><rect x="630" y="1560" width="8" height="1.5"/><rect x="787" y="1560" width="8" height="1.5"/></g>
</g>
<g font-size="13">
<text x="23" y="1319" fill="#e83030">RSPO3</text><text x="104" y="1319" fill="#ffffff">CD34</text><text x="62" y="1334" fill="#2fbf5f">PLVAP</text><text x="173" y="1334" fill="#2aa8e0" text-anchor="end">DAPI</text>
<text x="180" y="1319" fill="#e83030">PDPN</text><text x="261" y="1319" fill="#ffffff">CD34</text><text x="219" y="1334" fill="#2fbf5f">PLVAP</text><text x="330" y="1334" fill="#2aa8e0" text-anchor="end">DAPI</text>
<text x="337" y="1319" fill="#e83030">AIF1L</text><text x="418" y="1319" fill="#ffffff">CD34</text><text x="376" y="1334" fill="#2fbf5f">PLVAP</text><text x="487" y="1334" fill="#2aa8e0" text-anchor="end">DAPI</text>
<text x="494" y="1319" fill="#e83030">VWA1</text><text x="575" y="1319" fill="#ffffff">CD34</text><text x="533" y="1334" fill="#2fbf5f">PLVAP</text><text x="645" y="1334" fill="#2aa8e0" text-anchor="end">DAPI</text>
<text x="652" y="1319" fill="#e83030">ACKR1</text><text x="733" y="1319" fill="#ffffff">CD34</text><text x="691" y="1334" fill="#2fbf5f">PLVAP</text><text x="802" y="1334" fill="#2aa8e0" text-anchor="end">DAPI</text>
</g>
<g class="b" font-size="14" text-anchor="middle"><text transform="translate(15,1397) rotate(-90)">Healthy</text><text transform="translate(15,1511) rotate(-90)">Cirrhotic</text></g>

<!-- ================= PANEL K ================= -->
<text x="814" y="1313" class="b" font-size="16">k</text>
<g stroke="#111" fill="none" stroke-width=".9"><path d="M834,1313V1428H949 M983,1313V1428H1098 M1132,1313V1428H1247 M834,1441V1556H949 M983,1441V1556H1098 M1132,1441V1556H1247"/></g>
<g transform="translate(840,1320) scale(.67)"><use xlink:href="#ts" fill="#8f8f8f"/><g clip-path="url(#tsc)"><rect x="95" y="0" width="55" height="46" fill="#d5604e"/></g></g>
<g transform="translate(989,1320) scale(.67)"><use xlink:href="#ts" fill="#8f8f8f"/><g clip-path="url(#tsc)"><circle cx="90" cy="6" r="8" fill="#1aa58a"/></g></g>
<g transform="translate(1138,1320) scale(.67)"><use xlink:href="#ts" fill="#8f8f8f"/><g clip-path="url(#tsc)"><rect x="0" y="40" width="18" height="25" fill="#b59428"/></g></g>
<g transform="translate(840,1448) scale(.67)"><use xlink:href="#ts" fill="#8f8f8f"/><g clip-path="url(#tsc)"><polygon points="0,122 50,128 80,127 112,118 112,160 0,160" fill="#1e9dca"/></g></g>
<g transform="translate(989,1448) scale(.67)"><use xlink:href="#ts" fill="#8f8f8f"/><g clip-path="url(#tsc)"><polygon points="18,28 60,32 75,58 45,108 18,112" fill="#de4fc0"/><polygon points="75,58 112,60 112,125 55,130 45,108" fill="#9a7fe2"/></g></g>
<g transform="translate(1138,1448) scale(.67)"><use xlink:href="#ts" fill="#b01478"/><g clip-path="url(#tsc)"><rect x="55" y="0" width="95" height="46" fill="#8f8f8f"/><rect x="0" y="130" width="40" height="25" fill="#8f8f8f" opacity=".5"/></g></g>
<g class="b" font-size="12" text-anchor="middle"><text x="891" y="1315">LSEC</text><text x="1039" y="1315">Central vein</text><text x="1189" y="1315">Lymphatic</text><text x="891" y="1444">Hepatic artery</text><text x="1039" y="1444">Scar-associated</text></g>
<g font-size="12">
<text x="949" y="1404" class="b" text-anchor="end">Cluster</text><circle cx="925" cy="1415" r="5" fill="#f07062" stroke="#333" stroke-width=".5"/><text x="931" y="1419">Endo(1)</text>
<text x="1098" y="1404" class="b" text-anchor="end">Cluster</text><circle cx="1074" cy="1415" r="5" fill="#14a88a" stroke="#333" stroke-width=".5"/><text x="1080" y="1419">Endo(4)</text>
<text x="1247" y="1404" class="b" text-anchor="end">Cluster</text><circle cx="1222" cy="1415" r="5" fill="#c29a18" stroke="#333" stroke-width=".5"/><text x="1228" y="1419">Endo(2)</text>
<text x="949" y="1536" class="b" text-anchor="end">Cluster</text><circle cx="925" cy="1546" r="5" fill="#14aee0" stroke="#333" stroke-width=".5"/><text x="931" y="1550">Endo(5)</text>
<text x="1098" y="1519" class="b" text-anchor="end">Cluster</text><circle cx="1074" cy="1529" r="5" fill="#a78be9" stroke="#333" stroke-width=".5"/><text x="1080" y="1533">Endo(6)</text><circle cx="1074" cy="1546" r="5" fill="#ef5bd0" stroke="#333" stroke-width=".5"/><text x="1080" y="1550">Endo(7)</text>
<text x="1272" y="1518" class="b" text-anchor="end">Condition</text><circle cx="1223" cy="1528" r="5" fill="#999" stroke="#333" stroke-width=".5"/><text x="1230" y="1532">Healthy</text><circle cx="1223" cy="1545" r="5" fill="#c01480" stroke="#333" stroke-width=".5"/><text x="1230" y="1549">Cirrhotic</text>
</g>
<path d="M826,1524 V1561 H859 M823,1528 L826,1522 L829,1528 M855,1558 L861,1561 L855,1564" stroke="#111" fill="none"/>
<text transform="translate(823,1562) rotate(-90)" font-size="11">t-SNE2</text>
<text x="822" y="1574" font-size="11">t-SNE1</text>
</svg>
</body></html>
